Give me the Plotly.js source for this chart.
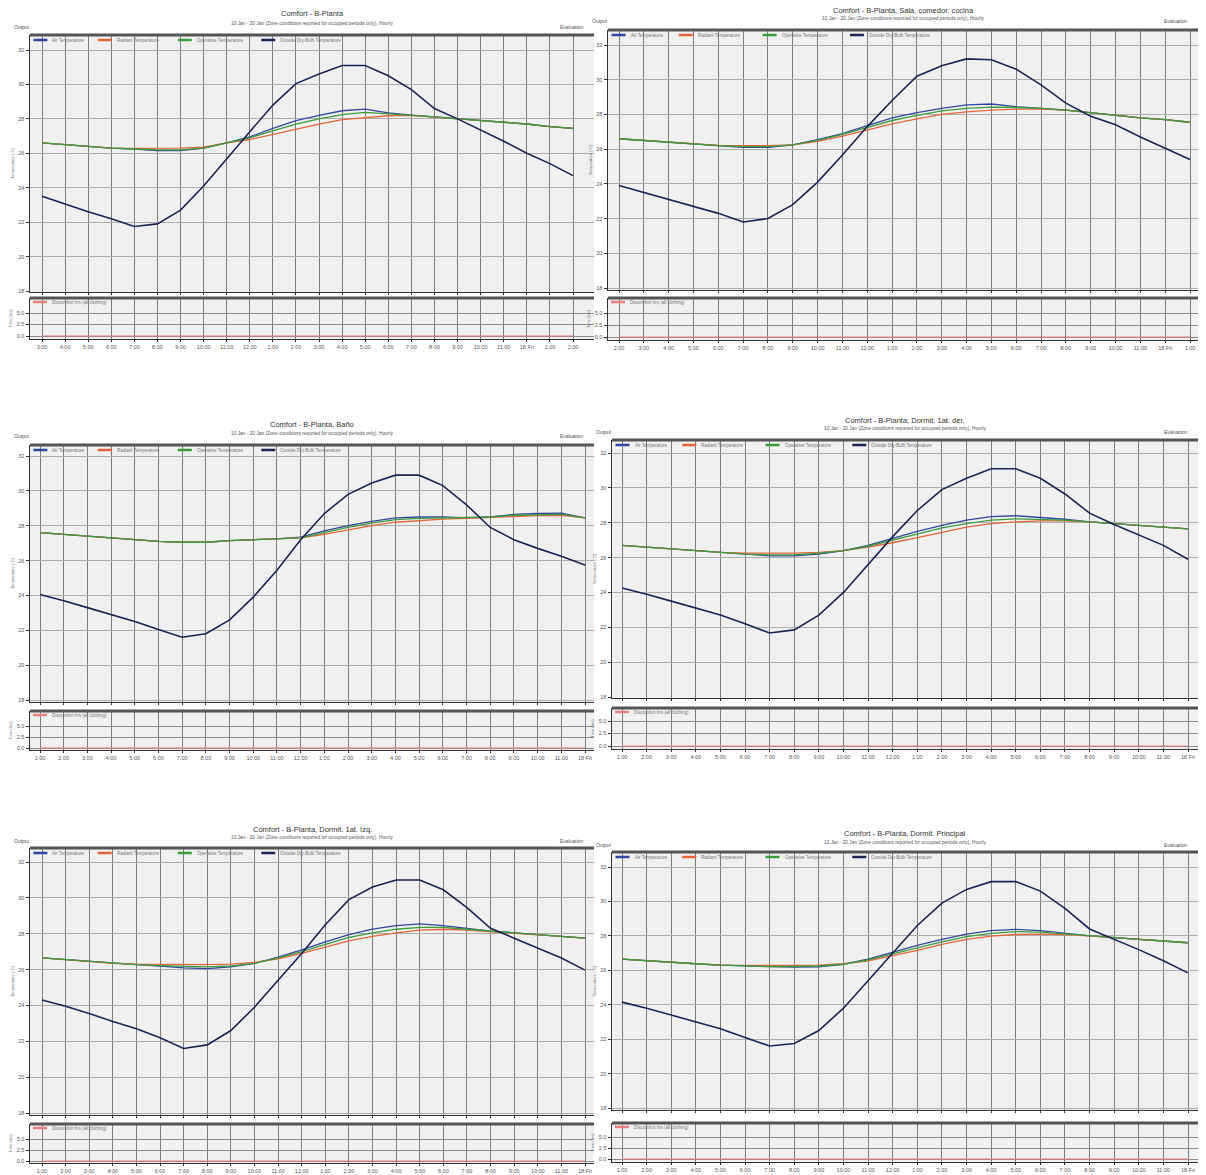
<!DOCTYPE html>
<html><head><meta charset="utf-8">
<script src="https://cdn.plot.ly/plotly-3.0.1.min.js"></script>
<style>html,body{margin:0;padding:0;background:#fff}#chart{width:1206px;height:1175px}</style>
</head><body><div id="chart"></div>
<script>
// ---------- DATA ----------
const seriesNames = ["Air Temperature", "Radiant Temperature", "Operative Temperature", "Outside Dry-Bulb Temperature"];
const discName = "Discomfort hrs (all clothing)";
const titles = ["Comfort - B-Planta", "Comfort - B-Planta, Sala, comedor, cocina", "Comfort - B-Planta, Baño",
  "Comfort - B-Planta, Dormit. 1at. der.", "Comfort - B-Planta, Dormit. 1at. Izq.", "Comfort - B-Planta, Dormit. Principal"];
const subtitle = "10 Jan - 20 Jan (Zone conditions reported for occupied periods only), Hourly";

const labelsA = ["3:00","4:00","5:00","6:00","7:00","8:00","9:00","10:00","11:00","12:00","1:00","2:00","3:00","4:00","5:00","6:00","7:00","8:00","9:00","10:00","11:00","18 Fri","1:00","2:00"];
const labelsB = ["2:00","3:00","4:00","5:00","6:00","7:00","8:00","9:00","10:00","11:00","12:00","1:00","2:00","3:00","4:00","5:00","6:00","7:00","8:00","9:00","10:00","11:00","18 Fri","1:00"];
const labelsC = ["1:00","2:00","3:00","4:00","5:00","6:00","7:00","8:00","9:00","10:00","11:00","12:00","1:00","2:00","3:00","4:00","5:00","6:00","7:00","8:00","9:00","10:00","11:00","18 Fri"];

const out1 = [23.5,23.05,22.6,22.2,21.75,21.9,22.7,24.1,25.7,27.25,28.8,30.05,30.6,31.1,31.1,30.5,29.7,28.6,28.0,27.35,26.7,26.0,25.4,24.7];
const air1 = [26.6,26.5,26.4,26.3,26.25,26.15,26.15,26.3,26.6,26.95,27.45,27.9,28.2,28.47,28.57,28.35,28.22,28.12,28.0,27.9,27.8,27.7,27.55,27.45];
const rad1 = [26.6,26.5,26.4,26.3,26.28,26.28,26.3,26.35,26.6,26.8,27.1,27.4,27.7,27.95,28.08,28.18,28.2,28.12,28.0,27.9,27.8,27.7,27.55,27.45];
const op1  = [26.6,26.5,26.4,26.3,26.25,26.2,26.2,26.3,26.6,26.9,27.3,27.7,28.0,28.25,28.38,28.3,28.22,28.12,28.0,27.9,27.8,27.7,27.55,27.45];

const out2 = [23.9,23.5,23.07,22.67,22.3,21.8,22.0,22.8,24.1,25.66,27.3,28.8,30.2,30.8,31.2,31.15,30.6,29.7,28.65,27.9,27.4,26.7,26.07,25.4];
const air2 = [26.6,26.5,26.4,26.3,26.2,26.1,26.1,26.25,26.55,26.9,27.35,27.8,28.1,28.35,28.55,28.6,28.45,28.35,28.25,28.1,27.95,27.8,27.7,27.55];
const rad2 = [26.6,26.5,26.4,26.3,26.22,26.2,26.2,26.25,26.45,26.75,27.1,27.45,27.75,28.0,28.15,28.25,28.3,28.3,28.25,28.1,27.95,27.8,27.7,27.55];
const op2  = [26.6,26.5,26.4,26.3,26.2,26.15,26.15,26.25,26.5,26.85,27.25,27.65,27.95,28.2,28.35,28.42,28.4,28.35,28.25,28.1,27.95,27.8,27.7,27.55];

const out3 = [24.05,23.7,23.3,22.9,22.5,22.05,21.6,21.8,22.6,23.9,25.45,27.2,28.7,29.8,30.45,30.9,30.9,30.3,29.2,27.9,27.2,26.7,26.25,25.75];
const air3 = [27.6,27.5,27.4,27.3,27.2,27.1,27.05,27.05,27.15,27.2,27.25,27.35,27.7,28.0,28.25,28.45,28.5,28.5,28.45,28.5,28.65,28.7,28.72,28.45];
const rad3 = [27.6,27.5,27.4,27.3,27.2,27.1,27.05,27.05,27.15,27.2,27.25,27.3,27.5,27.75,28.0,28.2,28.3,28.38,28.42,28.48,28.55,28.58,28.6,28.45];
const op3  = [27.6,27.5,27.4,27.3,27.2,27.1,27.05,27.05,27.15,27.2,27.25,27.3,27.6,27.9,28.15,28.35,28.42,28.45,28.45,28.5,28.6,28.62,28.65,28.45];

const out4 = [24.25,23.9,23.5,23.1,22.7,22.2,21.67,21.85,22.7,24.0,25.6,27.2,28.7,29.9,30.55,31.1,31.1,30.55,29.65,28.55,27.9,27.3,26.7,25.9];
const air4 = [26.7,26.6,26.5,26.4,26.3,26.2,26.1,26.1,26.2,26.4,26.7,27.1,27.5,27.85,28.15,28.35,28.4,28.3,28.2,28.05,27.95,27.85,27.75,27.65];
const rad4 = [26.7,26.6,26.5,26.4,26.3,26.25,26.25,26.25,26.3,26.4,26.6,26.85,27.15,27.45,27.75,27.95,28.05,28.1,28.1,28.05,27.95,27.85,27.75,27.65];
const op4  = [26.7,26.6,26.5,26.4,26.3,26.2,26.15,26.15,26.25,26.4,26.65,27.0,27.35,27.7,27.95,28.15,28.22,28.2,28.15,28.05,27.95,27.85,27.75,27.65];

const out5 = [24.3,23.95,23.55,23.1,22.7,22.2,21.6,21.8,22.6,23.9,25.4,26.9,28.5,29.9,30.6,31.0,31.0,30.45,29.45,28.3,27.75,27.2,26.65,25.97];
const air5 = [26.65,26.55,26.45,26.35,26.28,26.2,26.1,26.05,26.15,26.35,26.7,27.1,27.55,27.95,28.25,28.45,28.55,28.45,28.3,28.15,28.05,27.95,27.85,27.75];
const rad5 = [26.65,26.55,26.45,26.35,26.3,26.28,26.28,26.28,26.3,26.4,26.6,26.9,27.25,27.6,27.85,28.05,28.2,28.25,28.2,28.12,28.05,27.95,27.85,27.75];
const op5  = [26.65,26.55,26.45,26.35,26.28,26.22,26.18,26.15,26.2,26.35,26.65,27.0,27.4,27.8,28.05,28.25,28.35,28.35,28.25,28.15,28.05,27.95,27.85,27.75];

const out6 = [24.15,23.8,23.4,23.0,22.6,22.1,21.6,21.75,22.5,23.8,25.4,27.0,28.6,29.9,30.7,31.15,31.15,30.6,29.6,28.4,27.8,27.2,26.55,25.85];
const air6 = [26.65,26.55,26.45,26.38,26.3,26.25,26.2,26.18,26.2,26.35,26.65,27.05,27.45,27.8,28.1,28.3,28.38,28.3,28.15,28.0,27.9,27.8,27.7,27.6];
const rad6 = [26.65,26.55,26.45,26.38,26.3,26.28,26.28,26.28,26.3,26.38,26.55,26.85,27.15,27.5,27.8,27.98,28.08,28.1,28.08,28.0,27.9,27.8,27.7,27.6];
const op6  = [26.65,26.55,26.45,26.38,26.3,26.25,26.22,26.22,26.25,26.35,26.6,26.95,27.3,27.65,27.95,28.15,28.25,28.22,28.12,28.0,27.9,27.8,27.7,27.6];

const discomfort = [0,0,0,0,0,0,0,0,0,0,0,0,0,0,0,0,0,0,0,0,0,0,0,0];
const tempTicks = [18,20,22,24,26,28,30,32];
const hourTicks = [0,2.5,5];

// ---------- LAYOUT GEOMETRY (pixels) ----------
const W = 1206, H = 1175;
const geo = [
 {x0:30,x1:594,i0:42,i23:573,mt:35,mb:292,y32:50,y18:291,st:298,sb:339,s5:313,s0:336,tY:14,sY:24,hY:27},
 {x0:608,x1:1198,i0:619,i23:1190,mt:30,mb:290,y32:45,y18:288,st:298,sb:340,s5:313,s0:337,tY:10,sY:18,hY:21},
 {x0:30,x1:594,i0:40,i23:585,mt:445,mb:702,y32:456,y18:700,st:711,sb:750,s5:726,s0:748,tY:424,sY:433,hY:436},
 {x0:612,x1:1198,i0:622,i23:1188,mt:440,mb:698,y32:453,y18:697,st:708,sb:749,s5:721,s0:746,tY:420,sY:429,hY:432},
 {x0:30,x1:594,i0:42,i23:585,mt:848,mb:1115,y32:862,y18:1113,st:1124,sb:1163,s5:1139,s0:1161,tY:829,sY:837,hY:841},
 {x0:612,x1:1198,i0:622,i23:1188,mt:852,mb:1110,y32:867,y18:1108,st:1123,sb:1162,s5:1137,s0:1159,tY:833,sY:842,hY:845}
];
const panelData = [
 {labels:labelsA, s:[air1,rad1,op1,out1]},
 {labels:labelsB, s:[air2,rad2,op2,out2]},
 {labels:labelsC, s:[air3,rad3,op3,out3]},
 {labels:labelsC, s:[air4,rad4,op4,out4]},
 {labels:labelsC, s:[air5,rad5,op5,out5]},
 {labels:labelsC, s:[air6,rad6,op6,out6]}
];
const colors = ["#34479a", "#e2653f", "#3f9a3f", "#1b2452"];
const discColor = "#e58080";
const FONT = "Liberation Sans, Arial, sans-serif";

const px = x => x / W;
const py = y => 1 - y / H;

const traces = [];
const layout = {
  width: W, height: H, margin: {l:0, r:0, t:0, b:0}, showlegend: false,
  paper_bgcolor: "#ffffff", plot_bgcolor: "#f0f0f0",
  font: {family: FONT, color: "#444", size: 6},
  shapes: [], annotations: []
};
const legendOffsets = [0.006, 0.12, 0.262, 0.41];

panelData.forEach((pd, p) => {
  const g = geo[p];
  const mx = 2*p+1, sx = 2*p+2;
  const xs = pd.labels.map((_, i) => i);
  const ppx = (g.i23 - g.i0) / (xs.length - 1);
  const xr = [-(g.i0 - g.x0)/ppx, (xs.length - 1) + (g.x1 - g.i23)/ppx];
  const ppd = (g.y18 - g.y32) / 14;
  const yr = [18 - (g.mb - g.y18)/ppd, 32 + (g.y32 - g.mt)/ppd];
  const ppu = (g.s0 - g.s5) / 5;
  const sr = [-(g.sb - g.s0)/ppu, 5 + (g.s5 - g.st)/ppu];
  const xdom = [px(g.x0), px(g.x1)];

  const xbase = {domain: xdom, range: xr, tickmode: "array", tickvals: xs, ticktext: pd.labels,
    showgrid: true, gridcolor: "#7d7d7d", gridwidth: 1, zeroline: false, showline: true, linecolor: "#333",
    ticks: "outside", ticklen: 2, tickcolor: "#333", tickfont: {size: 5.5, color: "#555"}, tickangle: 0, automargin: false};
  layout["xaxis" + mx] = Object.assign({}, xbase, {anchor: "y" + mx, showticklabels: false});
  layout["xaxis" + sx] = Object.assign({}, xbase, {anchor: "y" + sx, showticklabels: true});
  layout["yaxis" + mx] = {domain: [py(g.mb), py(g.mt)], range: yr, anchor: "x" + mx, tickmode: "array",
    tickvals: tempTicks, ticktext: tempTicks.map(String), showgrid: true, gridcolor: "#adadad", zeroline: false,
    showline: true, linecolor: "#333", linewidth: 1.5, ticks: "outside", ticklen: 3, tickcolor: "#333",
    tickfont: {size: 5.5, color: "#555"}, automargin: false,
    title: {text: "Temperature (°C)", font: {size: 4, color: "#666"}, standoff: 4}};
  layout["yaxis" + sx] = {domain: [py(g.sb), py(g.st)], range: sr, anchor: "x" + sx, tickmode: "array",
    tickvals: hourTicks, ticktext: hourTicks.map(v => v.toFixed(1)), showgrid: true, gridcolor: "#8a8a8a",
    zeroline: false, showline: true, linecolor: "#333", linewidth: 1.5, ticks: "outside", ticklen: 3, tickcolor: "#333",
    tickfont: {size: 5.5, color: "#555"}, automargin: false,
    title: {text: "Time (hrs)", font: {size: 4, color: "#666"}, standoff: 4}};

  pd.s.forEach((arr, k) => {
    traces.push({type: "scatter", mode: "lines", x: xs, y: arr, name: seriesNames[k],
      xaxis: "x" + mx, yaxis: "y" + mx, line: {color: colors[k], width: k === 3 ? 1.6 : 1.3}, hoverinfo: "skip"});
  });
  traces.push({type: "scatter", mode: "lines", x: xs, y: discomfort, name: discName,
    xaxis: "x" + sx, yaxis: "y" + sx, line: {color: discColor, width: 1.2}, hoverinfo: "skip"});

  // box top borders
  [g.mt, g.st].forEach(t => layout.shapes.push({type: "line", xref: "paper", yref: "paper",
    x0: px(g.x0), x1: px(g.x1), y0: py(t), y1: py(t), line: {color: "#555", width: 3}}));

  // legends (main)
  const bw = g.x1 - g.x0;
  seriesNames.forEach((nm, k) => {
    const lx = g.x0 + legendOffsets[k] * bw;
    const ly = g.mt + 5;
    layout.shapes.push({type: "line", xref: "paper", yref: "paper", x0: px(lx), x1: px(lx + 14),
      y0: py(ly), y1: py(ly), line: {color: colors[k], width: 2.5}});
    layout.annotations.push({xref: "paper", yref: "paper", x: px(lx + 17), y: py(ly), text: nm,
      showarrow: false, xanchor: "left", yanchor: "middle", font: {size: 4.5, color: "#777"}});
  });
  // legend (sub)
  layout.shapes.push({type: "line", xref: "paper", yref: "paper", x0: px(g.x0 + 3), x1: px(g.x0 + 17),
    y0: py(g.st + 4), y1: py(g.st + 4), line: {color: discColor, width: 2.5}});
  layout.annotations.push({xref: "paper", yref: "paper", x: px(g.x0 + 20), y: py(g.st + 4), text: discName,
    showarrow: false, xanchor: "left", yanchor: "middle", font: {size: 4.5, color: "#777"}});

  // titles
  const cx = (g.x0 + g.x1) / 2;
  layout.annotations.push({xref: "paper", yref: "paper", x: px(cx), y: py(g.tY), text: titles[p],
    showarrow: false, xanchor: "center", yanchor: "middle", font: {size: 7.5, color: "#333"}});
  layout.annotations.push({xref: "paper", yref: "paper", x: px(cx), y: py(g.sY), text: subtitle,
    showarrow: false, xanchor: "center", yanchor: "middle", font: {size: 4.8, color: "#555"}});
  layout.annotations.push({xref: "paper", yref: "paper", x: px(g.x0 - 18), y: py(g.hY), text: "Output",
    showarrow: false, xanchor: "left", yanchor: "middle", font: {size: 5, color: "#555"}});
  layout.annotations.push({xref: "paper", yref: "paper", x: px(g.x1 - 8), y: py(g.hY), text: "Evaluation",
    showarrow: false, xanchor: "right", yanchor: "middle", font: {size: 5, color: "#555"}});
});

Plotly.newPlot("chart", traces, layout, {staticPlot: true, displayModeBar: false});
</script></body></html>
